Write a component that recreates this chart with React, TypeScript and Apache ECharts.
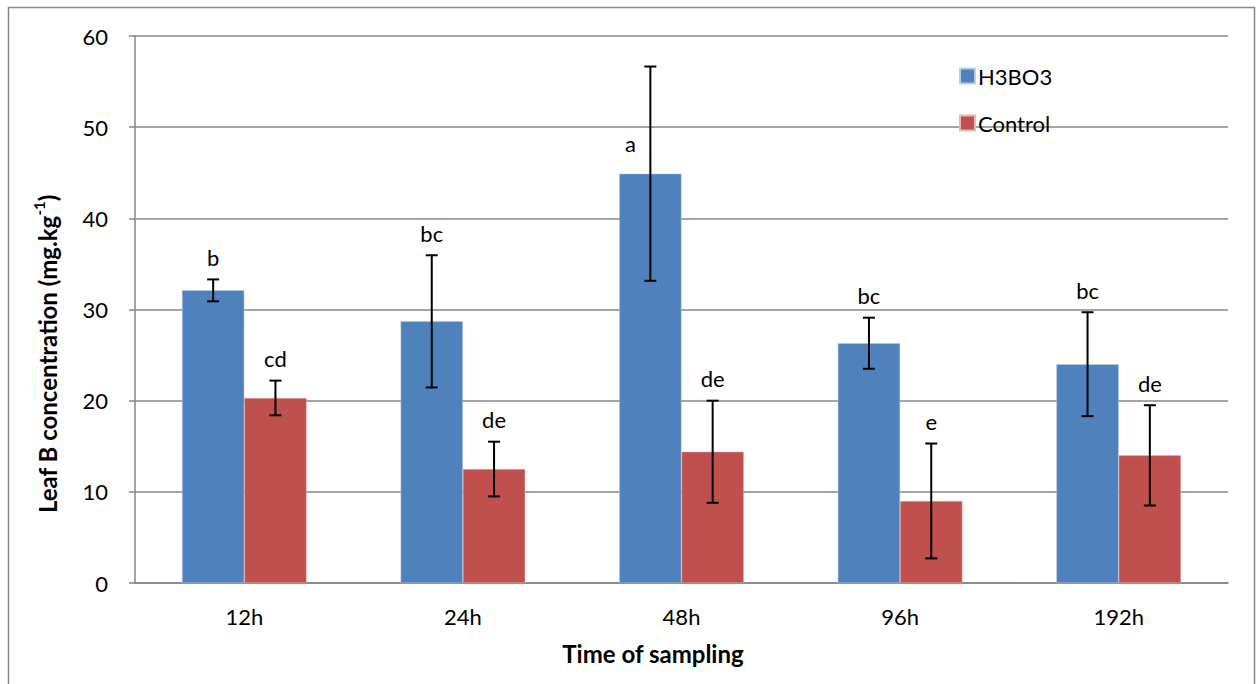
import React, { useEffect, useRef } from "react";
import * as echarts from "echarts";

const categories = ["12h", "24h", "48h", "96h", "192h"];
const h3bo3 = [32.1, 28.7, 44.9, 26.3, 24.0];
const h3bo3Err = [1.2, 7.25, 11.75, 2.8, 5.7];
const control = [20.3, 12.5, 14.4, 9.0, 14.0];
const controlErr = [1.9, 3.0, 5.6, 6.3, 5.5];
const h3bo3Letters = ["b", "bc", "a", "bc", "bc"];
const controlLetters = ["cd", "de", "de", "e", "de"];
const yTicks = [0, 10, 20, 30, 40, 50, 60];

const FONT = "Lato";
const GAP = 0.43;

function errSeries(name: string, vals: number[], errs: number[], letters: string[], side: number) {
  return {
    type: "custom",
    name: name + "-err",
    z: 10,
    silent: true,
    data: vals.map((v, i) => [i, v, errs[i]]),
    renderItem: (params: any, api: any) => {
      const i = api.value(0);
      const v = api.value(1);
      const e = api.value(2);
      const band = api.size([1, 0])[0];
      const bw = (band * (1 - GAP)) / 2;
      const c = api.coord([i, v]);
      const x = c[0] + side * bw / 2;
      const top = api.coord([i, v + e])[1];
      const bot = api.coord([i, v - e])[1];
      const cap = 6;
      const ls = { stroke: "#000", lineWidth: 2 };
      const letter = letters[i];
      const leftPlaced = v + e > 55;
      const tx = leftPlaced ? x - 20 : x;
      const ty = leftPlaced ? c[1] - 30 : top - 22;
      return {
        type: "group",
        children: [
          { type: "line", shape: { x1: x, y1: top, x2: x, y2: bot }, style: ls },
          { type: "line", shape: { x1: x - cap, y1: top, x2: x + cap, y2: top }, style: ls },
          { type: "line", shape: { x1: x - cap, y1: bot, x2: x + cap, y2: bot }, style: ls },
          {
            type: "text",
            x: tx,
            y: ty,
            style: {
              text: letter,
              fontFamily: FONT,
              fontSize: 22,
              fill: "#000",
              align: "center",
              verticalAlign: "middle",
            },
          },
        ],
      };
    },
  };
}

export default function App() {
  const ref = useRef<HTMLDivElement>(null);
  useEffect(() => {
    document.body.style.margin = "0";
    const chart = echarts.init(ref.current!, undefined, { renderer: "svg" });
    chart.setOption({
      animation: false,
      backgroundColor: "#fff",
      textStyle: { fontFamily: FONT },
      grid: { left: 135, right: 28, top: 36, bottom: 101, containLabel: false },
      legend: {
        orient: "vertical",
        left: 954,
        top: 60,
        itemWidth: 15,
        itemHeight: 15,
        itemGap: 25,
        icon: "rect",
        data: ["H3BO3", "Control"],
        textStyle: { fontFamily: FONT, fontSize: 22, color: "#000", padding: [0, 0, 0, -2] },
      },
      xAxis: {
        type: "category",
        data: categories,
        axisLine: { lineStyle: { color: "#868686", width: 1.5 } },
        axisTick: { show: false },
        axisLabel: { fontFamily: FONT, fontSize: 22, color: "#000", margin: 22 },
      },
      yAxis: {
        type: "value",
        min: 0,
        max: 60,
        interval: 10,
        axisLine: { show: true, lineStyle: { color: "#868686", width: 1.5 } },
        axisTick: { show: true, length: 6, lineStyle: { color: "#868686", width: 1.5 } },
        splitLine: { lineStyle: { color: "#868686", width: 1.5 } },
        axisLabel: {
          fontFamily: FONT,
          fontSize: 22,
          color: "#000",
          margin: 27,
          formatter: (v: number) => (yTicks.includes(v) ? String(v) : ""),
        },
      },
      series: [
        {
          type: "bar",
          name: "H3BO3",
          data: h3bo3,
          barGap: "0%",
          barCategoryGap: GAP * 100 + "%",
          itemStyle: { color: "#4F81BD", borderColor: "#b9cde5", borderWidth: 0.5 },
        },
        {
          type: "bar",
          name: "Control",
          data: control,
          barGap: "0%",
          barCategoryGap: GAP * 100 + "%",
          itemStyle: { color: "#C0504D", borderColor: "#e6b9b8", borderWidth: 0.5 },
        },
        errSeries("H3BO3", h3bo3, h3bo3Err, h3bo3Letters, -1),
        errSeries("Control", control, controlErr, controlLetters, 1),
      ],
      graphic: [
        {
          type: "rect",
          shape: { x: 8.5, y: 7.5, width: 1246, height: 700 },
          style: { fill: "none", stroke: "#868686", lineWidth: 1.5 },
          silent: true,
        },
        {
          type: "text",
          x: 45,
          y: 354,
          rotation: Math.PI / 2,
          style: {
            text: "{a|Leaf B concentration (mg.kg}{s|-1}{a|)}",
            align: "center",
            verticalAlign: "middle",
            rich: {
              a: { fontFamily: FONT, fontSize: 24, fontWeight: "bold", fill: "#000", lineHeight: 28, verticalAlign: "bottom" },
              s: { fontFamily: FONT, fontSize: 15, fontWeight: "bold", fill: "#000", lineHeight: 28, verticalAlign: "top" },
            },
          },
        },
        {
          type: "text",
          x: 653,
          y: 653,
          style: {
            text: "Time of sampling",
            fontFamily: FONT,
            fontSize: 24,
            fontWeight: "bold",
            fill: "#000",
            align: "center",
            verticalAlign: "middle",
          },
        },
      ],
    });
    return () => chart.dispose();
  }, []);
  return <div ref={ref} style={{ width: 1256, height: 684 }} />;
}
